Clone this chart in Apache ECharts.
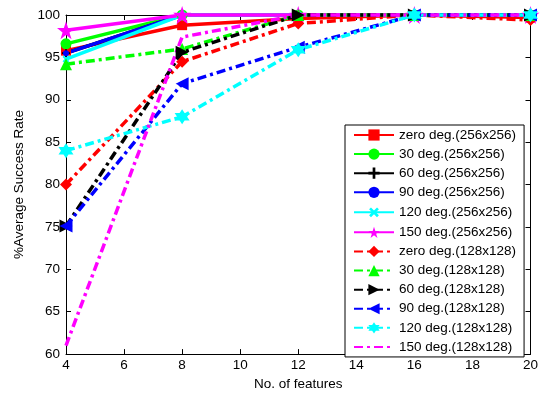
<!DOCTYPE html>
<html>
<head>
<meta charset="utf-8">
<script src="https://cdn.jsdelivr.net/npm/echarts@6/dist/echarts.min.js"></script>
<style>html,body{margin:0;padding:0;background:#fff}#c{width:541px;height:396px}</style>
</head>
<body>
<div id="c"></div>
<script>
// ---- data ----
const features = [4, 8, 12, 16, 20];
const xTicks = [4, 6, 8, 10, 12, 14, 16, 18, 20];
const yTicks = [60, 65, 70, 75, 80, 85, 90, 95, 100];
const seriesNames = [
  'zero deg.(256x256)', '30 deg.(256x256)', '60 deg.(256x256)', '90 deg.(256x256)',
  '120 deg.(256x256)', '150 deg.(256x256)', 'zero deg.(128x128)', '30 deg.(128x128)',
  '60 deg.(128x128)', '90 deg.(128x128)', '120 deg.(128x128)', '150 deg.(128x128)'
];
const zero256 = [95.8, 98.8, 99.6, 100, 99.7];
const deg30_256 = [96.6, 100, 100, 100, 100];
const deg60_256 = [95.5, 100, 100, 100, 100];
const deg90_256 = [95.5, 100, 100, 100, 100];
const deg120_256 = [94.8, 100, 100, 100, 100];
const deg150_256 = [98.2, 100, 100, 100, 100];
const zero128 = [80, 94.5, 99.0, 100, 99.4];
const deg30_128 = [94.2, 96.0, 100, 100, 100];
const deg60_128 = [75.1, 95.6, 100, 100, 100];
const deg90_128 = [75.1, 91.9, 96.2, 100, 100];
const deg120_128 = [84.0, 88.0, 95.9, 100, 100];
const deg150_128 = [61.0, 97.4, 100, 100, 100];

const allValues = [zero256, deg30_256, deg60_256, deg90_256, deg120_256, deg150_256,
  zero128, deg30_128, deg60_128, deg90_128, deg120_128, deg150_128];

// ---- styles ----
const STAR = 'path://M50,0 L61.2,34.5 L97.6,34.5 L68.2,55.9 L79.4,90.5 L50,69.1 L20.6,90.5 L31.8,55.9 L2.4,34.5 L38.8,34.5 Z';
const HEX = 'path://M50,0 L64.4,25 L93.3,25 L78.9,50 L93.3,75 L64.4,75 L50,100 L35.6,75 L6.7,75 L21.1,50 L6.7,25 L35.6,25 Z';
const PLUS = 'path://M38,0 H62 V38 H100 V62 H62 V100 H38 V62 H0 V38 H38 Z';
const DASHDOT = [9, 4, 3, 4];
const styles = [
  {color: '#ff0000', symbol: 'rect', size: 10, dash: 'solid', rot: 0},
  {color: '#00ff00', symbol: 'circle', size: 11, dash: 'solid', rot: 0},
  {color: '#000000', symbol: PLUS, size: 8, dash: 'solid', rot: 0},
  {color: '#0000ff', symbol: 'circle', size: 6, dash: 'solid', rot: 0},
  {color: '#00ffff', symbol: PLUS, size: 8, dash: 'solid', rot: 45},
  {color: '#ff00ff', symbol: STAR, size: 18, dash: 'solid', rot: 0},
  {color: '#ff0000', symbol: 'diamond', size: 12, dash: DASHDOT, rot: 0},
  {color: '#00ff00', symbol: 'triangle', size: 12, dash: DASHDOT, rot: 0},
  {color: '#000000', symbol: 'triangle', size: 13, dash: DASHDOT, rot: -90},
  {color: '#0000ff', symbol: 'triangle', size: 13, dash: DASHDOT, rot: 90},
  {color: '#00ffff', symbol: HEX, size: 15, dash: DASHDOT, rot: 0},
  {color: '#ff00ff', symbol: 'none', size: 0, dash: DASHDOT, rot: 0}
];

const FONT = 'Liberation Sans, Arial, sans-serif';
const FS = 13.5;

const series = seriesNames.map((name, i) => ({
  name: name,
  type: 'line',
  data: features.map((x, j) => [x, allValues[i][j]]),
  symbol: styles[i].symbol,
  symbolSize: styles[i].size,
  symbolRotate: styles[i].rot,
  showSymbol: styles[i].symbol !== 'none',
  lineStyle: {color: styles[i].color, width: 3.5, type: styles[i].dash},
  itemStyle: {color: styles[i].color, borderWidth: 0},
  emphasis: {disabled: true},
  animation: false,
  clip: false
}));

const legendData = seriesNames.map((name, i) =>
  styles[i].symbol === 'none' ? {name: name, itemStyle: {opacity: 0}} : {name: name});

const axisCommonX = {
  type: 'value', min: 4, max: 20, interval: 2,
  axisLine: {show: true, onZero: false, lineStyle: {color: '#000', width: 1}},
  axisTick: {show: true, inside: true, length: 5, lineStyle: {color: '#000'}},
  splitLine: {show: false}
};
const axisCommonY = {
  type: 'value', min: 60, max: 100, interval: 5,
  axisLine: {show: true, onZero: false, lineStyle: {color: '#000', width: 1}},
  axisTick: {show: true, inside: true, length: 5, lineStyle: {color: '#000'}},
  splitLine: {show: false}
};

const chart = echarts.init(document.getElementById('c'), null, {renderer: 'canvas'});
chart.setOption({
  animation: false,
  backgroundColor: '#fff',
  grid: {left: 66, right: 9, top: 15, bottom: 36},
  xAxis: [
    Object.assign({}, axisCommonX, {
      position: 'bottom',
      axisLabel: {color: '#000', fontSize: FS, fontFamily: FONT, margin: 4,
        formatter: v => xTicks.includes(v) ? String(v) : ''},
      name: 'No. of features', nameLocation: 'middle', nameGap: 20,
      nameTextStyle: {color: '#000', fontSize: FS, fontFamily: FONT}
    }),
    Object.assign({}, axisCommonX, {position: 'top', axisLabel: {show: false}})
  ],
  yAxis: [
    Object.assign({}, axisCommonY, {
      position: 'left',
      axisLabel: {color: '#000', fontSize: FS, fontFamily: FONT, margin: 6,
        formatter: v => yTicks.includes(v) ? String(v) : ''},
      name: '%Average Success Rate', nameLocation: 'middle', nameGap: 36,
      nameTextStyle: {color: '#000', fontSize: FS, fontFamily: FONT}
    }),
    Object.assign({}, axisCommonY, {position: 'right', axisLabel: {show: false}})
  ],
  legend: {
    orient: 'vertical', left: 345, top: 125,
    padding: [3, 8, 3, 8],
    itemWidth: 40, itemHeight: 14, itemGap: 5.1,
    backgroundColor: '#fff', borderColor: '#000', borderWidth: 1,
    textStyle: {color: '#000', fontSize: FS, fontFamily: FONT},
    data: legendData
  },
  series: series
});
</script>
</body>
</html>
